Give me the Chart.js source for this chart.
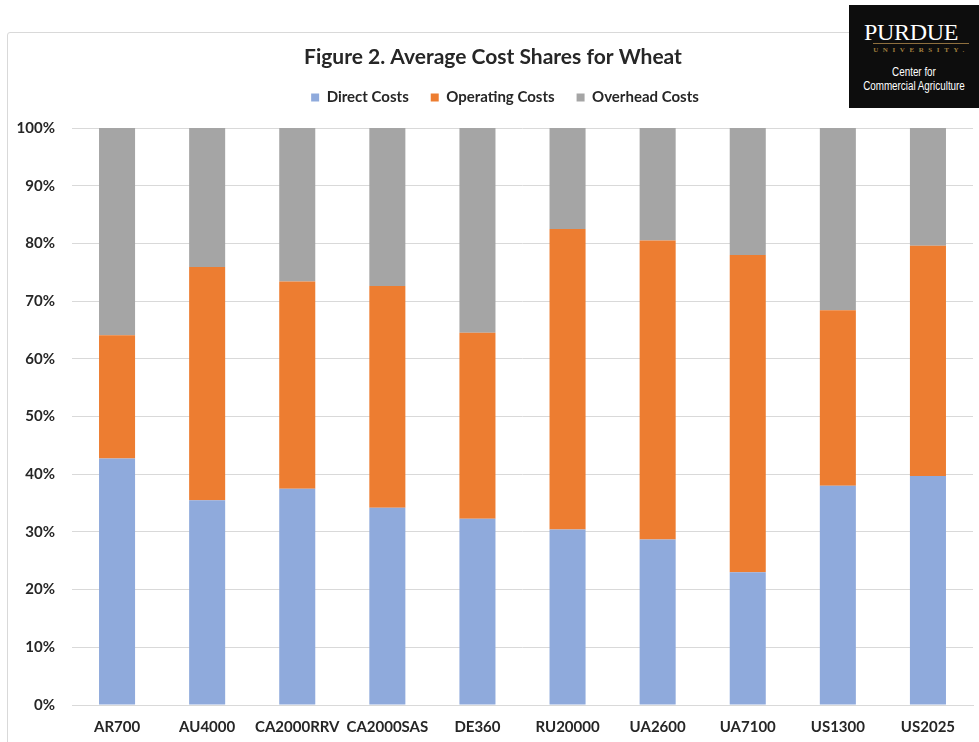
<!DOCTYPE html>
<html>
<head>
<meta charset="utf-8">
<script src="https://cdn.jsdelivr.net/npm/chart.js@4/dist/chart.umd.min.js"></script>
<style>
  html, body { margin: 0; padding: 0; background: #fff; overflow: hidden; }
  #wrap { position: relative; width: 979px; height: 742px; overflow: hidden; }
  #frame { position: absolute; left: 7px; top: 32px; width: 1000px; height: 800px;
           border: 1px solid #d9d9d9; border-radius: 3px; box-sizing: border-box; }
  #chart { position: absolute; left: 0; top: 0; }
  #logo { position: absolute; left: 849px; top: 5px; width: 130px; height: 103px;
          background: #0d0d0d; color: #fff; text-align: center; }
  #logo .name { position: absolute; left: 0; width: 124px; top: 13px;
                font-family: "Liberation Serif", "DejaVu Serif", serif; font-size: 24px;
                line-height: 28px; letter-spacing: -0.3px; }
  #logo .rule { position: absolute; left: 24px; width: 96px; top: 38px; height: 1px; background: #8e6f3e; }
  #logo .uni { position: absolute; left: 0; width: 124px; top: 41px; font-family: "Liberation Serif", serif;
               font-size: 7px; line-height: 9px; letter-spacing: 4.6px; color: #a2803f; font-weight: bold; padding-left: 20px; box-sizing: border-box; }
  #logo .cca { position: absolute; left: -10px; width: 150px; top: 60px;
               font-family: "Liberation Sans", sans-serif; font-size: 12px; line-height: 14px;
               transform: scaleX(0.82); transform-origin: 50% 0; }
</style>
</head>
<body>
<div id="wrap">
  <div id="frame"></div>
  <canvas id="chart" width="979" height="742"></canvas>
  <div id="logo">
    <div class="name">PURDUE</div>
    <div class="rule"></div>
    <div class="uni">UNIVERSITY.</div>
    <div class="cca">Center for<br>Commercial Agriculture</div>
  </div>
</div>
<script>
// Farm types (country + size code)
const farms = ['AR700', 'AU4000', 'CA2000RRV', 'CA2000SAS', 'DE360',
               'RU20000', 'UA2600', 'UA7100', 'US1300', 'US2025'];

// Share of total cost, percent
const directCosts    = [42.7, 35.5, 37.5, 34.2, 32.3, 30.4, 28.7, 23.0, 38.0, 39.7];
const operatingCosts = [21.4, 40.4, 35.9, 38.4, 32.2, 52.1, 51.8, 55.0, 30.4, 39.9];
const overheadCosts  = [35.9, 24.1, 26.6, 27.4, 35.5, 17.5, 19.5, 22.0, 31.6, 20.4];

const seriesNames = ['Direct Costs', 'Operating Costs', 'Overhead Costs'];
const seriesColors = ['#8faadc', '#ed7d31', '#a5a5a5'];

const FONT = 'Lato, "Open Sans", sans-serif';
const TEXT = '#262626';

// extra room below the legend row, and a small nudge of the legend to the right
const legendTweak = {
  id: 'legendTweak',
  beforeInit(chart) {
    const fitOrig = chart.legend.fit;
    chart.legend.fit = function () {
      fitOrig.call(this);
      this.height += 13;
    };
  },
  afterLayout(chart) {
    chart.legend.left += 12;
    chart.legend.right += 12;
  }
};

new Chart(document.getElementById('chart'), {
  type: 'bar',
  data: {
    labels: farms,
    datasets: [directCosts, operatingCosts, overheadCosts].map((d, i) => ({
      label: seriesNames[i],
      data: d,
      backgroundColor: seriesColors[i],
      borderWidth: 0,
      categoryPercentage: 1,
      barPercentage: 0.4
    }))
  },
  options: {
    responsive: false,
    animation: false,
    layout: { padding: { left: 13, right: 6, top: 47, bottom: 0 } },
    plugins: {
      title: {
        display: true,
        text: 'Figure 2. Average Cost Shares for Wheat',
        color: TEXT,
        font: { family: FONT, size: 21, weight: 'bold', lineHeight: 1 },
        padding: { top: 0, bottom: 0 }
      },
      legend: {
        position: 'top',
        labels: {
          color: TEXT,
          font: { family: FONT, size: 15, weight: 'bold' },
          boxWidth: 8,
          boxHeight: 8,
          padding: 22
        }
      },
      tooltip: { enabled: false }
    },
    scales: {
      x: {
        stacked: true,
        grid: { display: false, drawTicks: false },
        border: { display: true, color: '#d9d9d9', width: 1 },
        ticks: { color: TEXT, font: { family: FONT, size: 15, weight: 'bold' }, padding: 13, maxRotation: 0, autoSkip: false },
        afterFit(s) { s.height = 37; }
      },
      y: {
        stacked: true,
        min: 0,
        max: 100,
        grid: { color: '#d9d9d9', lineWidth: 1, drawTicks: false },
        border: { display: false },
        ticks: {
          stepSize: 10,
          color: TEXT,
          font: { family: FONT, size: 15, weight: 'bold' },
          padding: 17,
          callback: v => v + '%'
        },
        afterFit(s) { s.width = 59; }
      }
    }
  },
  plugins: [legendTweak]
});
</script>
</body>
</html>
